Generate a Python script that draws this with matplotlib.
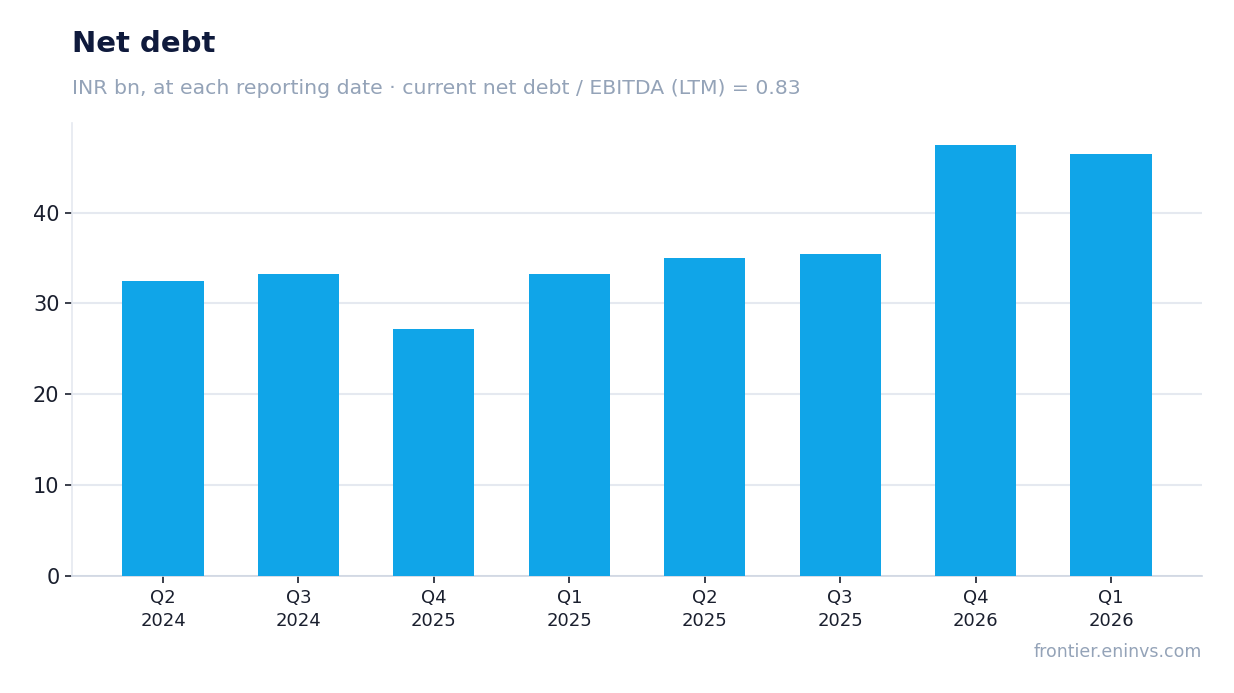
import matplotlib.pyplot as plt
import numpy as np

quarters = ['Q2', 'Q3', 'Q4', 'Q1', 'Q2', 'Q3', 'Q4', 'Q1']
years = ['2024', '2024', '2025', '2025', '2025', '2025', '2026', '2026']
net_debt = [32.5, 33.2, 27.2, 33.2, 35.0, 35.4, 47.5, 46.5]

BAR = '#10a5e8'
GRID = '#e5e9f0'
DARK = '#0f1a3c'
TICK = '#1a1f2e'
MUTED = '#94a3b8'

fig = plt.figure(figsize=(12.34, 6.93), dpi=100)
ax = fig.add_axes([72/1234, 1 - 575.5/693, 1130/1234, 452.5/693])

x = np.arange(len(net_debt))
ax.bar(x, net_debt, width=0.6, color=BAR, zorder=3)

ax.set_xlim(-0.672, len(net_debt) - 1 + 0.672)
ax.set_ylim(0, max(net_debt) * 1.05)
ax.set_yticks([0, 10, 20, 30, 40])
ax.yaxis.grid(True, color=GRID, lw=1.5, zorder=0)
ax.set_axisbelow(True)

ax.set_xticks(x)
ax.set_xticklabels([f'{q}\n{y}' for q, y in zip(quarters, years)], linespacing=1.3)
ax.tick_params(axis='x', labelsize=13, colors=TICK, length=5, width=1.2, pad=5)
ax.tick_params(axis='y', labelsize=15, colors=TICK, length=5, width=1.2, pad=4)

for s in ['top', 'right']:
    ax.spines[s].set_visible(False)
ax.spines['left'].set_color('#e5e9f0')
ax.spines['bottom'].set_color('#cfd6e2')
ax.spines['left'].set_linewidth(1.2)
ax.spines['bottom'].set_linewidth(1.2)

fig.text(72/1234, 1 - 44/693, 'Net debt', fontsize=21, fontweight='bold',
         color=DARK, va='center', ha='left')
fig.text(72/1234, 1 - 88/693,
         'INR bn, at each reporting date \u00b7 current net debt / EBITDA (LTM) = 0.83',
         fontsize=14.7, color=MUTED, va='center', ha='left')
fig.text(1202/1234, 1 - 652/693, 'frontier.eninvs.com', fontsize=12.5,
         color=MUTED, va='center', ha='right')

fig.savefig('out.png', dpi=100, facecolor='white')
